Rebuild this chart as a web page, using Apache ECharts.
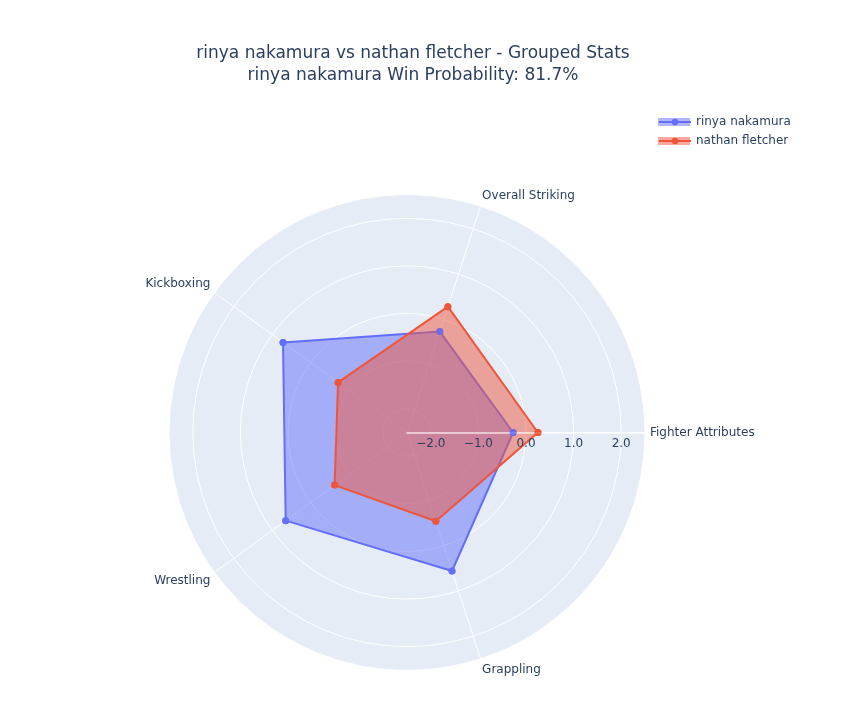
<!DOCTYPE html>
<html>
<head>
<meta charset="utf-8">
<script src="https://cdn.jsdelivr.net/npm/echarts@6/dist/echarts.min.js"></script>
<style>
  html, body { margin: 0; padding: 0; background: #fff; }
  #main { width: 849px; height: 717px; }
</style>
</head>
<body>
<div id="main"></div>
<script>
// categories round the circle, counterclockwise from the right
var categories = ['Fighter Attributes', 'Overall Striking', 'Kickboxing', 'Wrestling', 'Grappling'];
var rinya = [-0.27, -0.27, 0.72, 0.65, 0.56];
var nathan = [0.25, 0.28, -0.71, -0.62, -0.54];
var names = ['rinya nakamura', 'nathan fletcher'];
var colors = ['#636efa', '#EF553B'];
var fills = ['rgba(99,110,250,0.5)', 'rgba(239,85,59,0.5)'];

var FONT = '"DejaVu Sans", Verdana, sans-serif';
var CX = 407, CY = 432.5, R = 238;
var STEP = 360 / categories.length;
var RMIN = -2.5, RMAX = 2.5;

var chart = echarts.init(document.getElementById('main'));

// polygon points [r, angle], closed back to the first one at 360
function closed(vals) {
    var pts = vals.map(function (v, i) { return [v, i * STEP]; });
    pts.push([vals[0], 360]);
    return pts;
}

function tickText(v) {
    if (Math.abs(v - Math.round(v)) > 1e-6) return '';
    return v.toFixed(1).replace('-', '\u2212');
}

function angleText(a) {
    var i = Math.round(a / STEP);
    return i < categories.length ? categories[i] : '';
}

var series = [];
[rinya, nathan].forEach(function (vals, k) {
    series.push({
        name: names[k],
        type: 'line',
        coordinateSystem: 'polar',
        polarIndex: 0,
        data: closed(vals),
        clip: false,
        symbol: 'circle',
        symbolSize: 7,
        lineStyle: { color: colors[k], width: 2 },
        itemStyle: { color: colors[k] },
        areaStyle: { color: colors[k], opacity: 0.5, origin: 'start' },
        z: 2 + k
    });
});
// markers again on top of the radial axis line
[rinya, nathan].forEach(function (vals, k) {
    series.push({
        name: names[k] + ' pts',
        type: 'scatter',
        coordinateSystem: 'polar',
        polarIndex: 0,
        data: closed(vals).slice(0, vals.length),
        symbol: 'circle',
        symbolSize: 7,
        itemStyle: { color: colors[k] },
        silent: true,
        z: 20 + k
    });
});

var option = {
    backgroundColor: '#fff',
    textStyle: { fontFamily: FONT },
    title: {
        text: 'rinya nakamura vs nathan fletcher - Grouped Stats\nrinya nakamura Win Probability: 81.7%',
        left: 408,
        top: 38,
        textAlign: 'center',
        textStyle: {
            fontFamily: FONT,
            fontSize: 17,
            fontWeight: 'normal',
            color: '#2a3f5f',
            lineHeight: 22
        }
    },
    // background disc and translucent bands behind the legend icons
    graphic: [
        { type: 'circle', z: -10, silent: true, shape: { cx: CX, cy: CY, r: R }, style: { fill: '#E5ECF6' } },
        { type: 'rect', z: -10, silent: true, shape: { x: 658, y: 118, width: 32, height: 8 }, style: { fill: fills[0] } },
        { type: 'rect', z: -10, silent: true, shape: { x: 658, y: 137, width: 32, height: 8 }, style: { fill: fills[1] } }
    ],
    legend: {
        orient: 'vertical',
        left: 658,
        top: 116,
        padding: 0,
        itemWidth: 32,
        itemHeight: 8,
        itemGap: 7,
        textStyle: { fontSize: 12, color: '#2a3f5f', fontFamily: FONT },
        data: names
    },
    // two polars on the same spot: the first holds grid and data,
    // the second only draws the radial axis line and labels above the fills
    polar: [
        { center: [CX, CY], radius: R },
        { center: [CX, CY], radius: R }
    ],
    angleAxis: [{
        polarIndex: 0,
        type: 'value',
        min: 0,
        max: 360,
        interval: STEP,
        startAngle: 0,
        clockwise: false,
        axisLine: { show: false },
        axisTick: { show: false },
        axisLabel: { color: '#2a3f5f', fontSize: 12, margin: 5, fontFamily: FONT, formatter: angleText },
        splitLine: { show: true, lineStyle: { color: '#ffffff', width: 1 } },
        z: 1
    }, {
        polarIndex: 1,
        type: 'value',
        min: 0,
        max: 360,
        startAngle: 0,
        clockwise: false,
        axisLine: { show: false },
        axisTick: { show: false },
        axisLabel: { show: false },
        splitLine: { show: false }
    }],
    radiusAxis: [{
        polarIndex: 0,
        type: 'value',
        min: RMIN,
        max: RMAX,
        splitNumber: 5,
        axisLine: { show: false },
        axisTick: { show: false },
        axisLabel: { show: false },
        splitLine: { show: true, lineStyle: { color: '#ffffff', width: 1 } },
        z: 1
    }, {
        polarIndex: 1,
        type: 'value',
        min: RMIN,
        max: RMAX,
        splitNumber: 5,
        axisLine: { show: true, lineStyle: { color: 'rgba(255,255,255,0.75)', width: 1.5 } },
        axisTick: { show: false },
        axisLabel: {
            color: '#2a3f5f',
            fontSize: 12,
            fontFamily: FONT,
            margin: -5,
            verticalAlign: 'top',
            formatter: tickText
        },
        splitLine: { show: false },
        z: 10
    }],
    series: series
};

chart.setOption(option);
</script>
</body>
</html>
